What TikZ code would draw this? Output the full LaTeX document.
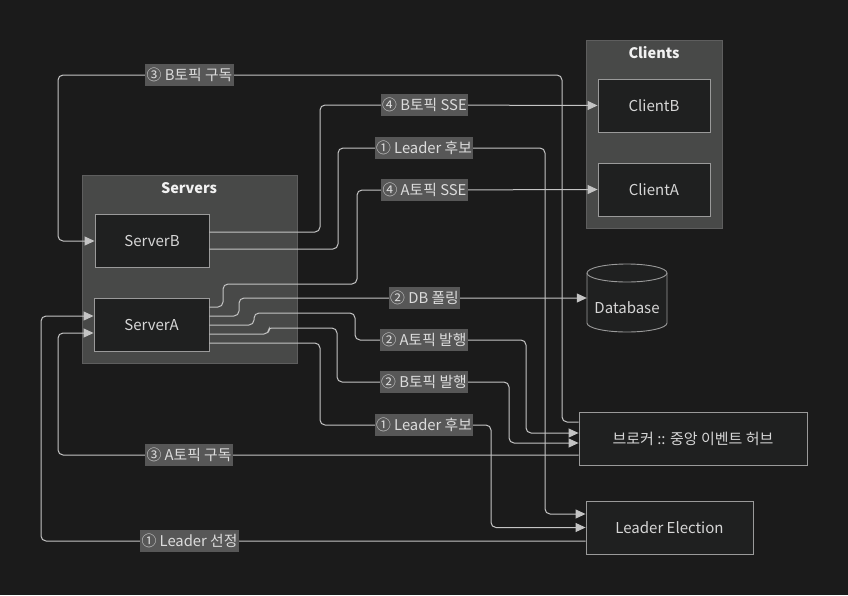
\documentclass[tikz,border=0pt]{standalone}
\usepackage{fontspec}
\setmainfont{Noto Sans CJK KR}
\usetikzlibrary{arrows.meta,calc}
\definecolor{bg}{HTML}{1B1B1B}
\definecolor{clfill}{HTML}{484948}
\definecolor{clborder}{HTML}{5E5E5E}
\definecolor{nodefill}{HTML}{1F2020}
\definecolor{nodeborder}{HTML}{9A9A9A}
\definecolor{nodetext}{HTML}{D6D6D6}
\definecolor{titletext}{HTML}{F2F2F2}
\definecolor{edgecol}{HTML}{C4C4C4}
\definecolor{lblfill}{HTML}{575757}
\definecolor{lbltext}{HTML}{DCDCDC}
\tikzset{
  cluster/.style={draw=clborder, fill=clfill, line width=0.8pt},
  box/.style={draw=nodeborder, fill=nodefill, line width=0.9pt, text=nodetext,
    font=\fontsize{15}{17}\selectfont, minimum height=53, inner sep=0pt},
  dbtext/.style={text=nodetext, font=\fontsize{15}{17}\selectfont, inner sep=0pt},
  edge/.style={draw=edgecol, line width=1pt, rounded corners=5pt},
  arr/.style={edge, -{Triangle[length=10pt,width=9pt]}},
  lbl/.style={fill=lblfill, text=lbltext, font=\fontsize{14.8}{16}\selectfont,
    inner xsep=1.5pt, inner ysep=0pt, minimum height=22, rounded corners=0pt},
  ttl/.style={text=titletext, font=\bfseries\fontsize{14.5}{16}\selectfont}
}
\begin{document}
\begin{tikzpicture}[x=1pt,y=-1pt]
\fill[bg] (0,0) rectangle (848,595);
\useasboundingbox (0,0) rectangle (848,595);

% clusters
\draw[cluster] (82,175) rectangle (297,363);
\node[ttl] (servtitle) at (189,188) {Servers};
\draw[cluster] (586,40) rectangle (722,228);
\node[ttl] (clitile) at (654,53) {Clients};

% nodes
\node[box, minimum width=114] (serverB) at (152,241) {ServerB};
\node[box, minimum width=115] (serverA) at (151.5,325) {ServerA};
\node[box, minimum width=112] (clientB) at (654,105.5) {ClientB};
\node[box, minimum width=112] (clientA) at (654,189.5) {ClientA};
\node[box, minimum width=228] (broker) at (693,438.5) {브로커 :: 중앙 이벤트 허브};
\node[box, minimum width=167] (leader) at (669.5,527.5) {Leader Election};

% database cylinder
\draw[draw=nodeborder, fill=nodefill, line width=0.9pt]
  (587,273) -- (587,323) arc[start angle=180, end angle=360, x radius=40, y radius=-9]
  -- (667,273) arc[start angle=0, end angle=180, x radius=40, y radius=-9] -- cycle;
\draw[draw=nodeborder, line width=0.9pt]
  (587,273) arc[start angle=180, end angle=360, x radius=40, y radius=-9];
\node[dbtext, minimum width=80, minimum height=48] (db) at (627,308) {Database};

% edges
\draw[arr] ([yshift=16.5pt]broker.west) -- (562,422) -- (562,75)
  -- (189.5,75) node[lbl]{③ B토픽 구독} -- (58,75) -- (58,241) -- (serverB.west);

\draw[arr] ([yshift=9pt]serverB.east) -- (320,232) -- (320,105)
  -- (424.5,105) node[lbl]{④ B토픽 SSE} -- (clientB.west);

\draw[arr] ([yshift=-8pt]serverB.east) -- (338,249) -- (338,148)
  -- (424,148) node[lbl]{① Leader 후보} -- (545,148) -- (545,514)
  -- ([yshift=13.5pt]leader.west);

\draw[arr] ([yshift=18pt]serverA.east) -- (223,307) -- (223,284) -- (357,284)
  -- (357,190) -- (424.5,190) node[lbl]{④ A토픽 SSE} -- (clientA.west);

\draw[arr] ([yshift=9pt]serverA.east) -- (239,316) -- (239,298)
  -- (424.5,298) node[lbl]{② DB 폴링} -- ([yshift=10pt]db.west);

\draw[arr] (serverA.east) -- (254,325) -- (254,313) -- (355,313) -- (355,340)
  -- (424,340) node[lbl]{② A토픽 발행} -- (526,340) -- (526,433)
  -- ([yshift=5.5pt]broker.west);

\draw[arr] ([yshift=-9pt]serverA.east) -- (269,334) [rounded corners=2.5pt] -- (269,328)
  [rounded corners=5pt] -- (337,328)
  -- (337,382) -- (424,382) node[lbl]{② B토픽 발행} -- (509,382) -- (509,443)
  -- ([yshift=-4.5pt]broker.west);

\draw[arr] ([yshift=-18pt]serverA.east) -- (320,343) -- (320,425)
  -- (424,425) node[lbl]{① Leader 후보} -- (491,425) -- (491,527.5)
  -- (leader.west);

\draw[arr] ([yshift=-16.5pt]broker.west) -- (189,455) node[lbl]{③ A토픽 구독}
  -- (58,455) -- (58,333) -- ([yshift=-8pt]serverA.west);

\draw[arr] ([yshift=-13.5pt]leader.west) -- (189.5,541) node[lbl]{① Leader 선정}
  -- (41,541) -- (41,316) -- ([yshift=9pt]serverA.west);
\end{tikzpicture}
\end{document}
